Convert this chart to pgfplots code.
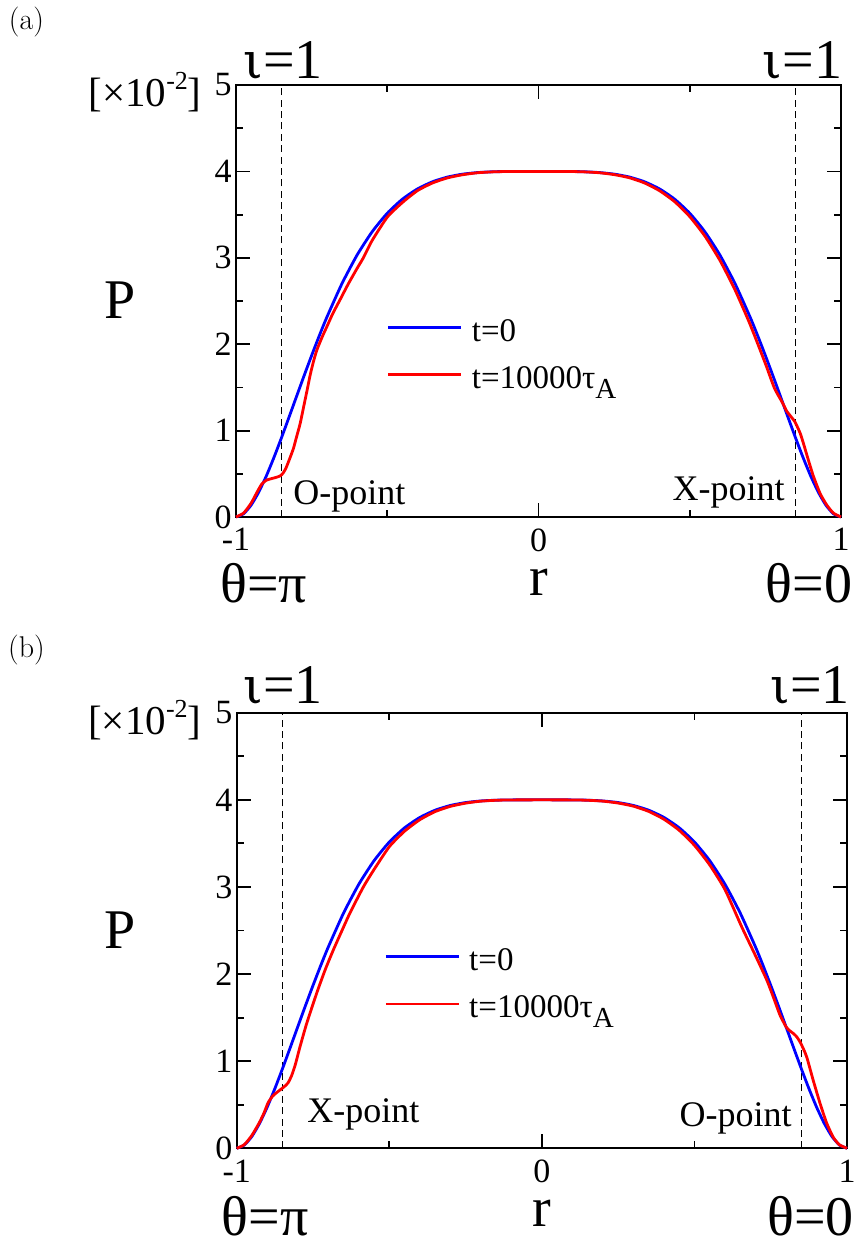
\documentclass[border=0pt]{standalone}
\usepackage{fontspec}
\setmainfont{Liberation Serif}
\newfontfamily\iotafont{DejaVu Serif}
\usepackage{pgfplots}
\pgfplotsset{compat=1.18}

\newcommand\tickfont{\fontsize{17bp}{19bp}\selectfont}
\newcommand\notefont{\fontsize{18bp}{20bp}\selectfont}
\newcommand\unitfont{\fontsize{20.5bp}{22bp}\selectfont}
\newcommand\bigfont{\fontsize{28bp}{30bp}\selectfont}
\newcommand\legfont{\fontsize{16.5bp}{18bp}\selectfont}
\newcommand\panelfont{\fontfamily{lmr}\fontsize{15bp}{17bp}\selectfont}
\newcommand\iotaone{{\iotafont\fontsize{25bp}{28bp}\selectfont ι}=1}
\newcommand\tauA{τ\raisebox{-0.3em}{\fontsize{14.5bp}{16bp}\selectfont A}}
\newcommand\unitlabel{[×10\raisebox{0.42em}{\fontsize{13bp}{15bp}\selectfont -2}]}

\tikzset{big/.style={font=\bigfont, inner sep=0pt}}

\pgfplotsset{
  panel/.style={
    scale only axis, anchor=south west,
    xmin=-1, xmax=1, ymin=0, ymax=5,
    xtick={-1,0,1},
    xticklabels={{\textnormal{-1}},{\textnormal{0}},{\textnormal{1}}},
    minor xtick={-0.5,0.5},
    ytick={0,1,2,3,4,5},
    yticklabels={{\textnormal{0}},{\textnormal{1}},{\textnormal{2}},{\textnormal{3}},{\textnormal{4}},{\textnormal{5}}},
    minor ytick={0.5,1.5,2.5,3.5,4.5},
    tick align=inside,
    major tick length=7bp, minor tick length=3.5bp,
    every tick/.style={black, line width=0.9bp},
    axis line style={black, line width=1bp},
    xticklabel style={font=\tickfont, inner sep=0pt, anchor=north, yshift=-5.5bp},
    yticklabel style={font=\tickfont, inner sep=0pt, anchor=east, xshift=-2bp},
    clip=false,
    legend cell align=left,
    legend image code/.code={\draw[##1] (0bp,3bp) -- (36.5bp,3bp);},
    legend style={draw=none, fill=none, inner sep=0pt, anchor=north west,
      font=\legfont, row sep=9.6bp, column sep=4.5bp,
      nodes={inner sep=0pt, text height=11bp, text depth=3bp}},
  },
  t0/.style={color=blue, line width=1.4bp, smooth, tension=0.35},
  t1/.style={color=red, line width=1.4bp, smooth, tension=0.35},
  qline/.style={black, line width=0.8bp, dash pattern=on 3.5bp off 2.2bp, forget plot},
}

% initial pressure profile (identical in both panels)
\pgfplotstableread{
r P
-1.000 0.0000
-0.975 0.0371
-0.950 0.1376
-0.925 0.2871
-0.900 0.4731
-0.875 0.6850
-0.850 0.9139
-0.825 1.1524
-0.800 1.3943
-0.775 1.6346
-0.750 1.8692
-0.725 2.0951
-0.700 2.3098
-0.650 2.6994
-0.600 3.0304
-0.550 3.3014
-0.500 3.5156
-0.450 3.6787
-0.400 3.7978
-0.350 3.8809
-0.300 3.9355
-0.250 3.9688
-0.200 3.9872
-0.150 3.9960
-0.100 3.9992
0.000 4.0000
0.100 3.9992
0.150 3.9960
0.200 3.9872
0.250 3.9688
0.300 3.9355
0.350 3.8809
0.400 3.7978
0.450 3.6787
0.500 3.5156
0.550 3.3014
0.600 3.0304
0.650 2.6994
0.700 2.3098
0.725 2.0951
0.750 1.8692
0.775 1.6346
0.800 1.3943
0.825 1.1524
0.850 0.9139
0.875 0.6850
0.900 0.4731
0.925 0.2871
0.950 0.1376
0.975 0.0371
1.000 0.0000
}\profinit

% case (a): profile after 10000 tau_A
\pgfplotstableread{
r P
-1.000 0.000
-0.975 0.045
-0.950 0.160
-0.930 0.290
-0.915 0.380
-0.900 0.425
-0.885 0.442
-0.870 0.456
-0.855 0.474
-0.845 0.505
-0.835 0.565
-0.822 0.680
-0.810 0.795
-0.800 0.925
-0.788 1.080
-0.777 1.265
-0.766 1.450
-0.755 1.640
-0.745 1.785
-0.733 1.930
-0.715 2.085
-0.700 2.200
-0.680 2.355
-0.656 2.515
-0.630 2.690
-0.601 2.870
-0.579 3.000
-0.550 3.200
-0.500 3.470
-0.450 3.640
-0.400 3.778
-0.350 3.867
-0.300 3.926
-0.250 3.962
-0.200 3.985
-0.150 3.995
-0.100 3.999
0.000 4.000
0.100 3.999
0.150 3.995
0.200 3.985
0.250 3.963
0.300 3.927
0.350 3.867
0.400 3.777
0.450 3.650
0.500 3.477
0.550 3.252
0.600 2.969
0.650 2.626
0.700 2.225
0.750 1.776
0.780 1.491
0.807 1.320
0.820 1.228
0.835 1.160
0.848 1.100
0.865 0.970
0.876 0.850
0.892 0.660
0.909 0.470
0.931 0.272
0.953 0.138
0.975 0.045
1.000 0.000
}\profa

% case (b): profile after 10000 tau_A
\pgfplotstableread{
r P
-1.000 0.000
-0.975 0.042
-0.950 0.150
-0.925 0.300
-0.910 0.410
-0.897 0.525
-0.882 0.600
-0.869 0.640
-0.855 0.678
-0.845 0.705
-0.832 0.750
-0.820 0.835
-0.808 0.960
-0.793 1.160
-0.771 1.430
-0.738 1.780
-0.710 2.050
-0.683 2.280
-0.655 2.500
-0.629 2.700
-0.585 3.000
-0.550 3.200
-0.500 3.462
-0.450 3.640
-0.400 3.772
-0.350 3.865
-0.300 3.925
-0.250 3.962
-0.200 3.985
-0.150 3.995
-0.100 3.999
0.000 4.000
0.100 3.999
0.150 3.995
0.200 3.985
0.250 3.963
0.300 3.927
0.350 3.867
0.400 3.777
0.450 3.650
0.500 3.477
0.550 3.252
0.600 2.969
0.655 2.540
0.700 2.210
0.737 1.930
0.760 1.720
0.780 1.530
0.800 1.395
0.812 1.350
0.824 1.318
0.835 1.280
0.846 1.220
0.857 1.140
0.868 1.045
0.889 0.780
0.911 0.520
0.933 0.290
0.955 0.125
0.975 0.040
1.000 0.000
}\profb

\begin{document}
\begin{tikzpicture}
\useasboundingbox (0,0) rectangle (427bp,-622.5bp);

\node[font=\panelfont] at (13.25bp,-11.25bp) {(a)};
\node[font=\panelfont] at (13.25bp,-325bp) {(b)};

% ---------------- panel (a)
\begin{axis}[panel, at={(118bp,-258.5bp)}, width=302.5bp, height=216bp,
  legend style={at={(0.249,0.459)}}]
  \addplot[qline] coordinates {(-0.85,0) (-0.85,5)};
  \addplot[qline] coordinates {(0.85,0) (0.85,5)};
  \addplot[t0] table {\profinit};
  \addlegendentry{t=0}
  \addplot[t1] table {\profa};
  \addlegendentry{t=10000\tauA}

  \node[big, anchor=base] at (axis description cs:0.0777,1.0162) {\iotaone};
  \node[big, anchor=base] at (axis description cs:0.9364,1.0162) {\iotaone};
  \node[font=\unitfont, anchor=base east, inner sep=0pt] at (axis description cs:-0.0562,0.95) {\unitlabel};
  \node[big] at (axis description cs:-0.1917,0.502) {P};
  \node[big, anchor=base] at (axis description cs:0.5,-0.1806) {r};
  \node[big, anchor=base] at (axis description cs:0.0455,-0.199) {θ=π};
  \node[big, anchor=base] at (axis description cs:0.947,-0.199) {θ=0};
  \node[font=\notefont, anchor=base west, inner sep=0pt] at (axis description cs:0.0942,0.0278) {O-point};
  \node[font=\notefont, anchor=base east, inner sep=0pt] at (axis description cs:0.9074,0.0377) {X-point};
\end{axis}

% ---------------- panel (b)
\begin{axis}[panel, at={(118.35bp,-574.15bp)}, width=305.2bp, height=217.8bp,
  legend style={at={(0.2414,0.459)}}]
  \addplot[qline] coordinates {(-0.85,0) (-0.85,5)};
  \addplot[qline] coordinates {(0.85,0) (0.85,5)};
  \addplot[t0] table {\profinit};
  \addlegendentry{t=0}
  \addplot[t1] table {\profb};
  \addlegendentry{t=10000\tauA}

  \node[big, anchor=base] at (axis description cs:0.0759,1.0216) {\iotaone};
  \node[big, anchor=base] at (axis description cs:0.9395,1.0216) {\iotaone};
  \node[font=\unitfont, anchor=base east, inner sep=0pt] at (axis description cs:-0.0573,0.949) {\unitlabel};
  \node[big] at (axis description cs:-0.1912,0.501) {P};
  \node[big, anchor=base] at (axis description cs:0.5,-0.18) {r};
  \node[big, anchor=base] at (axis description cs:0.0464,-0.199) {θ=π};
  \node[big, anchor=base] at (axis description cs:0.940,-0.199) {θ=0};
  \node[font=\notefont, anchor=base west, inner sep=0pt] at (axis description cs:0.1152,0.0604) {X-point};
  \node[font=\notefont, anchor=base east, inner sep=0pt] at (axis description cs:0.9098,0.0496) {O-point};
\end{axis}
\end{tikzpicture}
\end{document}
